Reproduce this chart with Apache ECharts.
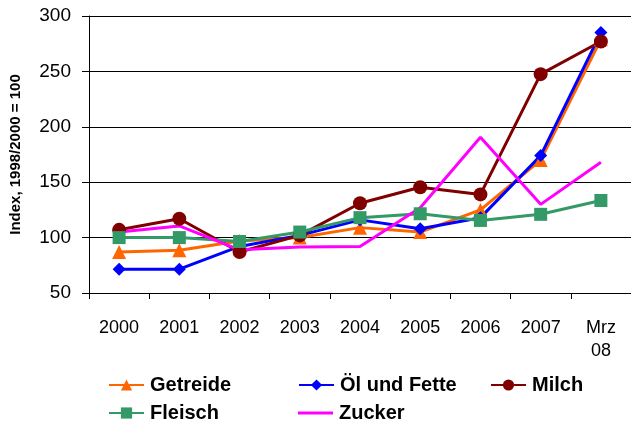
<!DOCTYPE html>
<html><head><meta charset="utf-8">
<script src="https://cdn.jsdelivr.net/npm/echarts@6/dist/echarts.min.js"></script>
<style>html,body{margin:0;padding:0;background:#fff}#c{width:631px;height:429px}</style>
</head><body><div id="c"></div>
<script>
const categories = ['2000','2001','2002','2003','2004','2005','2006','2007','Mrz\n08'];
const getreide = [87, 88.5, 97, 100, 109, 105, 125, 170, 279];
const oel = [71.5, 71.5, 92, 102, 116, 108, 118, 174, 285];
const milch = [107, 117, 87, 102, 131, 145.5, 139, 247.5, 277];
const fleisch = [100, 100, 96.5, 105, 118, 121.5, 115.5, 121, 133.5];
const zucker = [105, 110.5, 89, 91.5, 92, 127, 190.5, 130, 168];
const yTicks = [50, 100, 150, 200, 250, 300];

const FONT = 'Liberation Sans, Arial, sans-serif';
const chart = echarts.init(document.getElementById('c'), null, {renderer: 'canvas'});
function ser(name, data, color, symbol, size) {
  return {name, type: 'line', data, symbol, symbolSize: size, showSymbol: symbol !== 'none',
    itemStyle: {color}, lineStyle: {color, width: 3}, animation: false, z: 2};
}
function leg(name, left, top, extra) {
  return Object.assign({data: [name], left, top, itemWidth: 35, itemHeight: 14, itemGap: 4, padding: 0,
    textStyle: {fontFamily: FONT, fontSize: 20, fontWeight: 'bold', color: '#000', padding: [0,0,0,1]}}, extra || {});
}
chart.setOption({
  animation: false,
  textStyle: {fontFamily: FONT},
  grid: {left: 88, top: 16, width: 546, height: 277},
  xAxis: {type: 'category', data: categories, boundaryGap: true,
    axisLine: {lineStyle: {color: '#000', width: 1}},
    axisTick: {show: true, length: 6, lineStyle: {color: '#000'}},
    axisLabel: {color: '#000', fontSize: 18, fontFamily: FONT, margin: 24, lineHeight: 23}},
  yAxis: {type: 'value', min: 50, max: 300, interval: 50,
    name: 'Index, 1998/2000 = 100', nameLocation: 'middle', nameGap: 66,
    nameTextStyle: {fontFamily: FONT, fontSize: 15, fontWeight: 'bold', color: '#000'},
    axisLine: {show: true, lineStyle: {color: '#000', width: 1}},
    axisTick: {show: true, length: 7, lineStyle: {color: '#000'}},
    axisLabel: {color: '#000', fontSize: 19, fontFamily: FONT, margin: 18,
      formatter: v => yTicks.includes(v) ? String(v) : ''},
    splitLine: {show: true, lineStyle: {color: '#000', width: 1}}},
  legend: [leg('Getreide', 108, 375), leg('Öl und Fette', 298, 375), leg('Milch', 490, 375),
           leg('Fleisch', 108, 403),
           leg('Zucker', 298, 403, {data: [{name: 'Zucker', icon: 'rect'}], itemHeight: 3})],
  series: [
    ser('Getreide', getreide, '#FF6600', 'triangle', 14),
    ser('Öl und Fette', oel, '#0000FF', 'diamond', 13),
    ser('Milch', milch, '#800000', 'circle', 14),
    ser('Fleisch', fleisch, '#339966', 'rect', 13),
    ser('Zucker', zucker, '#FF00FF', 'none', 0)
  ]
});
</script></body></html>
